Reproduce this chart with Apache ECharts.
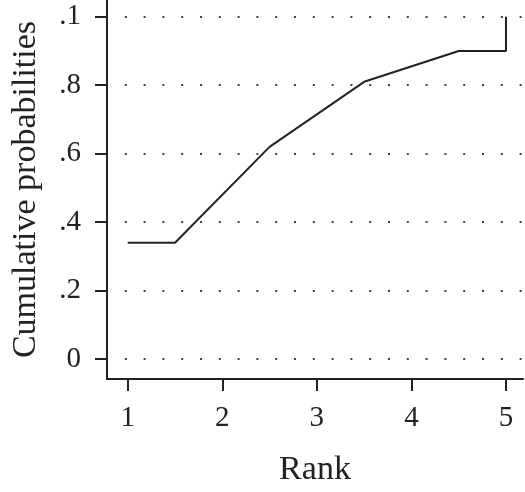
<!DOCTYPE html>
<html>
<head>
<meta charset="utf-8">
<script src="https://cdn.jsdelivr.net/npm/echarts@6/dist/echarts.min.js"></script>
<style>html,body{margin:0;padding:0;background:#fff}#c{width:525px;height:492px}</style>
</head>
<body>
<div id="c"></div>
<script>
var rankX = [1, 1.5, 2.5, 3.5, 4.5, 5, 5];
var cumProb = [0.34, 0.34, 0.62, 0.81, 0.90, 0.90, 1.0];
var xTicks = [1, 2, 3, 4, 5];
var yTicks = [0, 0.2, 0.4, 0.6, 0.8, 1.0];
var yTickLabels = ["0", ".2", ".4", ".6", ".8", ".1"];

var font = "Liberation Serif";
var chart = echarts.init(document.getElementById('c'));
chart.setOption({
  animation: false,
  grid: {left: 107, right: 2, top: 0, bottom: 111, containLabel: false},
  xAxis: {
    type: 'value', min: 0.781, max: 5.18,
    name: 'Rank', nameLocation: 'middle', nameGap: 74,
    nameTextStyle: {fontFamily: font, fontSize: 34, color: '#222'},
    axisLine: {show: true, onZero: false, lineStyle: {color: '#222', width: 2}},
    axisTick: {show: true, length: 12, customValues: xTicks, lineStyle: {color: '#222', width: 2}},
    axisLabel: {customValues: xTicks, margin: 25, fontFamily: font, fontSize: 29, color: '#222'},
    splitLine: {show: false}
  },
  yAxis: {
    type: 'value', min: -0.0581, max: 1.049,
    name: 'Cumulative probabilities', nameLocation: 'middle', nameGap: 64,
    nameTextStyle: {fontFamily: font, fontSize: 34, color: '#222'},
    axisLine: {show: true, lineStyle: {color: '#222', width: 2}},
    axisTick: {show: true, length: 12, customValues: yTicks, lineStyle: {color: '#222', width: 2}},
    axisLabel: {customValues: yTicks, margin: 26, fontFamily: font, fontSize: 29, color: '#222',
      formatter: function (v) { var i = yTicks.findIndex(function (t) { return Math.abs(t - v) < 1e-6; }); return i >= 0 ? yTickLabels[i] : ''; }},
    splitLine: {show: true, lineStyle: {color: '#444', width: 2, type: [2, 16.8], dashOffset: 1}}
  },
  series: [{
    type: 'line', data: rankX.map(function (x, i) { return [x, cumProb[i]]; }),
    showSymbol: false, symbol: 'none',
    lineStyle: {color: '#222', width: 2}
  }]
});
</script>
</body>
</html>
